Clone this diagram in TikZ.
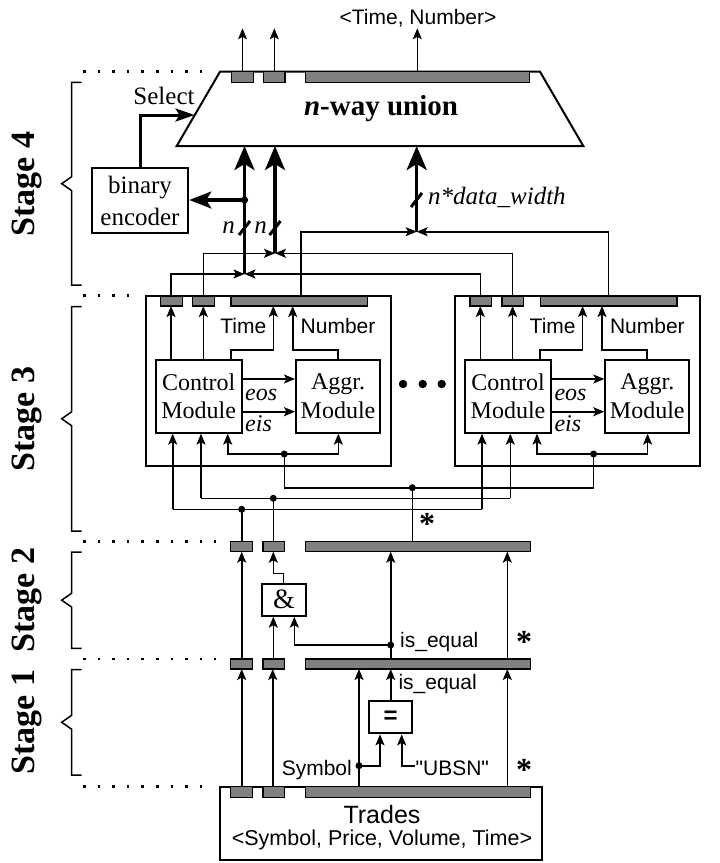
\documentclass[tikz,border=0pt]{standalone}
\usepackage{fontspec}
\setmainfont{Liberation Serif}
\newfontfamily\arialf{Liberation Sans}
\usetikzlibrary{arrows.meta}
\definecolor{barg}{RGB}{128,128,128}
\newcommand\stagebrace[2]{%
  \pgfmathsetmacro\bmid{(#1+#2)/2}%
  \draw[brace] (81.7,#1) -- (71.7,#1) -- (71.7,\bmid-7) -- (61.7,\bmid) -- (71.7,\bmid+7) -- (71.7,#2) -- (81.7,#2);}
\newcommand\threebars[2]{% top y, bottom y
  \draw[gbar] (230.7,#1) rectangle (252.5,#2);
  \draw[gbar] (262.9,#1) rectangle (284.5,#2);
  \draw[gbar] (305.3,#1) rectangle (530.5,#2);}
\newcommand\aggmodule[2]{%
\begin{scope}[xshift=#1pt]
  \draw[box] (145.7,295.7) rectangle (391,466);
  \draw[gbar] (160.7,296.7) rectangle (182.3,306);
  \draw[gbar] (192.7,296.7) rectangle (214.3,306);
  \draw[gbar] (231,296.7) rectangle (367.7,306);
  \node[box,rm,minimum width=86pt,minimum height=72.7pt,align=center] (ctrl#2) at (198.7,396.3) {Control\\Module};
  \node[box,rm,minimum width=84pt,minimum height=72.7pt,align=center] (aggr#2) at (338,396.3) {Aggr.\\Module};
  \draw[arr] (ctrl#2.north -| 171,0) -- (171,306);
  \draw[arr] (ctrl#2.north -| 203.3,0) -- (203.3,306);
  \draw[arr] (ctrl#2.north -| 230.7,0) |- (273.3,350) -- (273.3,306);
  \draw[arr] (aggr#2.north -| 337.7,0) |- (292.7,350) -- (292.7,306);
  \node[sans,anchor=base east] at (266.5,333.3) {Time};
  \node[sans,anchor=base west] at (300.5,333.3) {Number};
  \draw[arr] (ctrl#2.east |- 0,379) -- (aggr#2.west |- 0,379);
  \draw[arr] (ctrl#2.east |- 0,411.7) -- (aggr#2.west |- 0,411.7);
  \node[it,anchor=base west,font=\itshape\fontsize{24}{28}\selectfont] at (245,400) {eos};
  \node[it,anchor=base west,font=\itshape\fontsize{24}{28}\selectfont] at (245,431.7) {eis};
  \draw[arr] (172.7,509.3) -- (ctrl#2.south -| 172.7,0);
  \draw[arr] (201,498.3) -- (ctrl#2.south -| 201,0);
  \coordinate (fb#2) at (284.3,454);
  \draw[arr] (fb#2) -| (ctrl#2.south -| 227.7,0);
  \draw[arr] (fb#2) -| (aggr#2.south -| 338.3,0);
  \fill (fb#2) circle (3.5);
  \draw[wire] (fb#2) -- (284.3,487.7);
\end{scope}}
\begin{document}
\begin{tikzpicture}[x=1pt,y=-1pt,
  wire/.style={line width=1.6pt},
  arr/.style={line width=1.6pt,-{Stealth[length=11pt,width=9pt,inset=2.5pt]}},
  tarr/.style={line width=3.5pt,-{Stealth[length=24pt,width=20pt,inset=6pt]}},
  marr/.style={line width=3.2pt,-{Stealth[length=22pt,width=17pt,inset=5pt]}},
  sarr/.style={line width=3pt,-{Stealth[length=19pt,width=13pt,inset=4pt]}},
  box/.style={draw,line width=2pt,fill=white,inner sep=0pt},
  gbar/.style={draw,line width=1.5pt,fill=barg},
  dotl/.style={line width=2.6pt,dash pattern=on 2.6pt off 12pt},
  sans/.style={font=\arialf\fontsize{21}{24}\selectfont,inner sep=0pt},
  rm/.style={font=\fontsize{24}{28.3}\selectfont,inner sep=0pt},
  it/.style={font=\itshape\fontsize{25}{28}\selectfont,inner sep=0pt},
  stagel/.style={font=\bfseries\fontsize{34}{36}\selectfont,rotate=90,inner sep=0pt},
  star/.style={font=\bfseries\fontsize{32}{32}\selectfont,inner sep=0pt},
  slash/.style={line width=3pt},
  brace/.style={line width=1.5pt},
]
\useasboundingbox (0,0) rectangle (720,863);

% ---------- stage labels and braces ----------
\stagebrace{82.3}{285}
\stagebrace{306.5}{531}
\stagebrace{552}{648.3}
\stagebrace{669.5}{775}
\node[stagel] (s4) at (27,184) {Stage 4};
\node[stagel] (s3) at (27,419) {Stage 3};
\node[stagel] (s2) at (27,600) {Stage 2};
\node[stagel] (s1) at (27,722) {Stage 1};

% ---------- dotted level lines ----------
\draw[dotl] (83,71.7) -- (202,71.7);
\draw[dotl] (83,295.7) -- (138,295.7);
\draw[dotl] (83,541.7) -- (216,541.7);
\draw[dotl] (83,659) -- (216,659);
\draw[dotl] (83,786.7) -- (204,786.7);

% ---------- stage 4 ----------
\draw[box] (220,71.7) -- (540,71.7) -- (583.3,146) -- (176.7,146) -- cycle;
\draw[gbar] (231.7,71.7) rectangle (253.3,82.3);
\draw[gbar] (263.3,71.7) rectangle (285,82.3);
\draw[gbar] (305.7,71.7) rectangle (529.3,82.3);
\node[font=\bfseries\fontsize{29}{30}\selectfont,inner sep=0pt,anchor=base] (union) at (381,115) {\textit{n}-way union};
\draw[arr] (242.5,71.7) -- (242.5,28.3);
\draw[arr] (274.3,71.7) -- (274.3,28.3);
\draw[arr] (417.3,71.7) -- (417.3,28.3);
\node[sans,anchor=base] (out) at (418,24) {<Time, Number>};

\node[box,font=\fontsize{25}{31.7}\selectfont,minimum width=96.6pt,minimum height=65pt,align=center] (enc) at (140,200.8) {binary\\encoder};
\draw[sarr] (enc.north) |- (194.5,115);
\node[font=\fontsize{25}{28}\selectfont,inner sep=0pt,anchor=base] (sel) at (164,104) {Select};

\coordinate (j1) at (244.5,274);
\coordinate (j2) at (275,253.3);
\coordinate (j3) at (416.7,231.7);
\draw[tarr] (j1) -- (244.5,146);
\draw[tarr] (j2) -- (275,146);
\draw[tarr] (j3) -- (416.7,146);
\coordinate (ed) at (244.5,200);
\draw[marr] (ed) -- (enc.east |- ed);
\fill (ed) circle (3.6);
\draw[slash] (239,235) -- (250,221);
\draw[slash] (269.5,235) -- (280.5,221);
\draw[slash] (411,207) -- (422,193);
\node[it,anchor=base east] (n1) at (235,233.3) {n};
\node[it,anchor=base east] (n2) at (267,233.3) {n};
\node[it,anchor=base west] (nd) at (428,204) {n*data\_width};

% ---------- stage 3 ----------
\aggmodule{0}{L}
\aggmodule{309.3}{R}
\draw[arr] (171,296.7) |- (j1);
\draw[arr] (480.3,296.7) |- (j1);
\draw[arr] (203.3,296.7) |- (j2);
\draw[arr] (512.6,296.7) |- (j2);
\draw[arr] (301,296.7) |- (j3);
\draw[arr] (608.3,296.7) |- (j3);
\fill (403,384) circle (4.2);
\fill (422.7,384) circle (4.2);
\fill (441.7,384) circle (4.2);

\draw[wire] (172.7,509.3) -- (482,509.3);
\draw[wire] (201,498.3) -- (510.3,498.3);
\draw[wire] (284.3,487.7) -- (593.6,487.7);
\coordinate (d1) at (241.7,509.3);
\coordinate (d2) at (273.3,498.3);
\coordinate (d3) at (412.3,487.7);
\draw[wire] (d1) -- (241.7,541.7);
\draw[wire] (d2) -- (273.3,541.7);
\draw[wire] (d3) -- (412.3,541.7);
\fill (d1) circle (3.5);
\fill (d2) circle (3.5);
\fill (d3) circle (3.5);
\node[star] (st1) at (427,524) {*};

% ---------- stage 2 ----------
\threebars{541.7}{551.7}
\node[box,font=\fontsize{28}{28}\selectfont,minimum width=43.4pt,minimum height=31.7pt] (amp) at (284,599.8) {\&};
\draw[arr] (amp.north -| 283.3,0) |- (273.3,573.3) -- (273.3,551.7);
\draw[arr] (273.3,659) -- (amp.south -| 273.3,0);
\coordinate (eqd) at (390.7,645);
\draw[arr] (eqd) -| (amp.south -| 294.3,0);
\fill (eqd) circle (3.5);
\draw[arr] (241.7,659) -- (241.7,551.7);
\draw[arr] (390.7,659) -- (390.7,551.7);
\draw[arr] (507.3,659) -- (507.3,551.7);
\node[sans,anchor=base west] (ie2) at (400,647) {is\_equal};
\node[star] (st2) at (524,641.7) {*};

% ---------- stage 1 ----------
\threebars{659}{669}
\node[box,font=\arialf\bfseries\fontsize{24}{24}\selectfont,minimum width=43.3pt,minimum height=32.3pt] (eq) at (390.7,717.2) {=};
\draw[arr] (eq.north) -- (390.7,669);
\node[sans,anchor=base west] (ie1) at (398.3,689) {is\_equal};
\draw[arr] (241.7,786.7) -- (241.7,669);
\draw[arr] (272.7,786.7) -- (272.7,669);
\draw[arr] (359,786.7) -- (359,669);
\draw[arr] (507.3,786.7) -- (507.3,669);
\coordinate (sd) at (359,765.7);
\draw[arr] (sd) -| (eq.south -| 380,0);
\fill (sd) circle (3.5);
\node[sans,anchor=base east] (sym) at (352,775) {Symbol};
\node[sans,anchor=base west] (ubsn) at (415.5,775) {"UBSN"};
\coordinate (uw) at (415,765.7);
\draw[arr] (uw) -| (eq.south -| 401.7,0);
\node[star] (st3) at (524,770) {*};

% ---------- Trades ----------
\node[box,minimum width=322.2pt,minimum height=73.3pt] (trades) at (381.1,823.35) {};
\draw[gbar] (230.7,786.7) rectangle (252.5,797.3);
\draw[gbar] (262.9,786.7) rectangle (284.5,797.3);
\draw[gbar] (305.3,786.7) rectangle (530.5,797.3);
\node[sans,font=\arialf\fontsize{25}{26}\selectfont,anchor=base] (tt) at (382,823.3) {Trades};
\node[sans,font=\arialf\fontsize{21.5}{24}\selectfont,anchor=base] (tf) at (382,845) {<Symbol, Price, Volume, Time>};
\end{tikzpicture}
\end{document}
